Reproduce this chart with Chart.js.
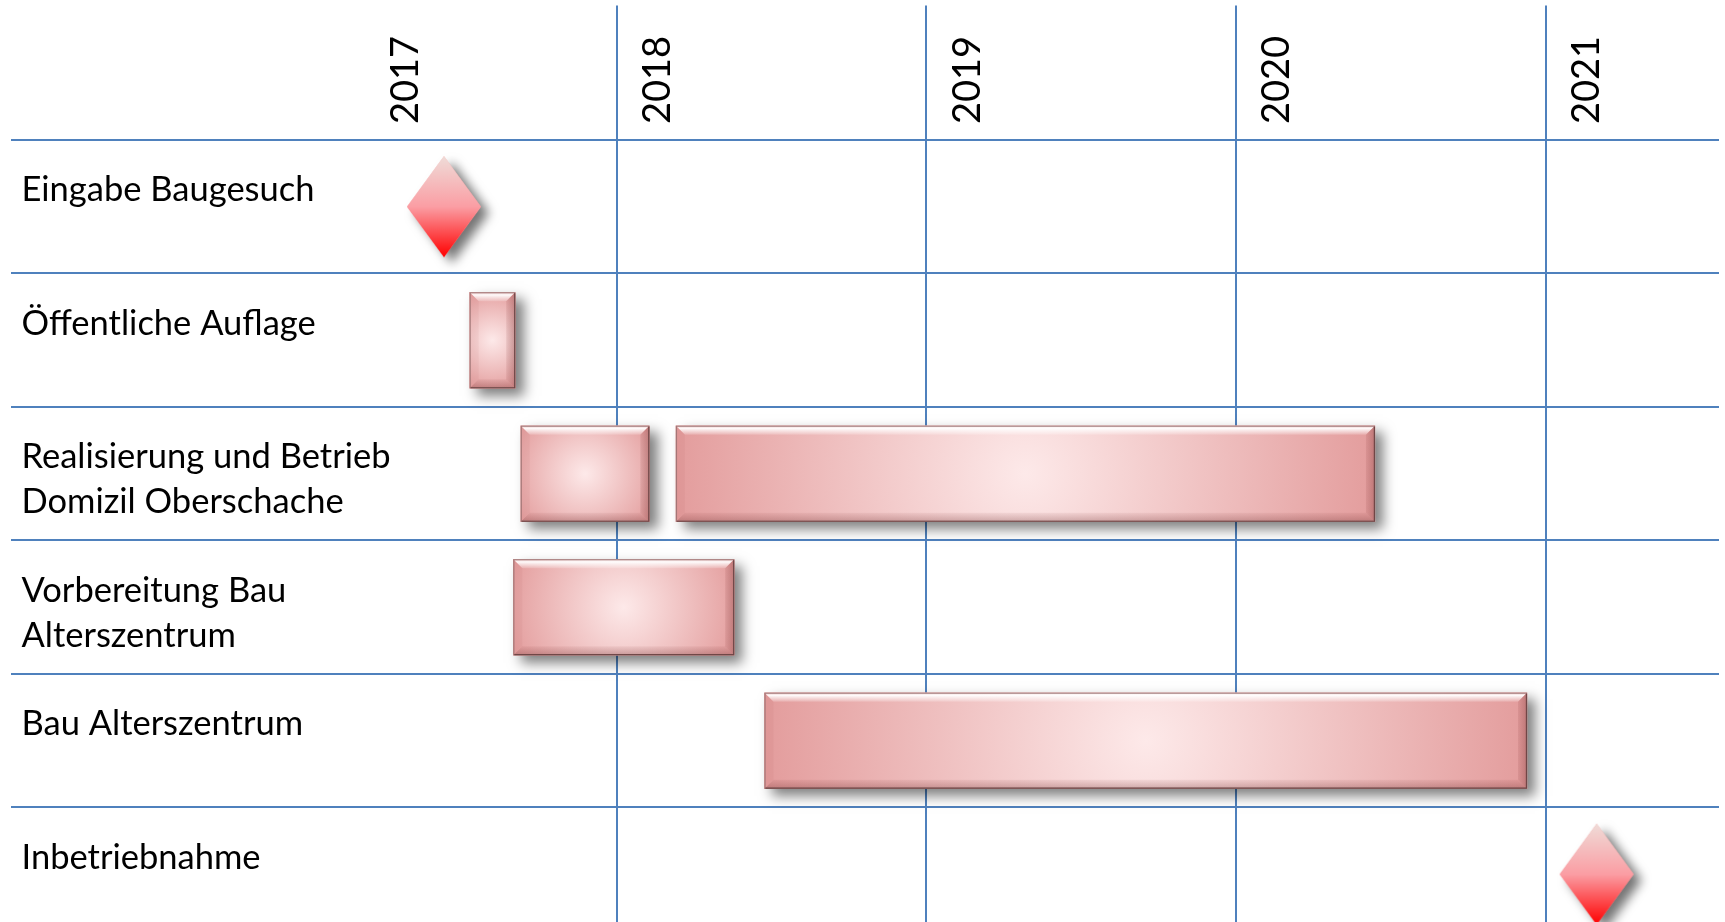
<!DOCTYPE html>
<html>
<head>
<meta charset="utf-8">
<script src="https://cdn.jsdelivr.net/npm/chart.js@4.4.1/dist/chart.umd.min.js"></script>
<style>
  html, body { margin: 0; padding: 0; background: #ffffff; }
  #wrap { width: 1725px; height: 922px; position: relative; }
</style>
</head>
<body>
<div id="wrap"><canvas id="c"></canvas></div>
<script>
// ---------------- data ----------------
const categories = [
  'Eingabe Baugesuch',
  'Öffentliche Auflage',
  'Realisierung und Betrieb\nDomizil Oberschache',
  'Vorbereitung Bau\nAlterszentrum',
  'Bau Alterszentrum',
  'Inbetriebnahme'
];
const yearTicks  = [2017, 2018, 2019, 2020, 2021];
const yearLabels = ['2017', '2018', '2019', '2020', '2021'];
const gridYears  = [2018, 2019, 2020, 2021];

// tasks (row index, start, end in fractional years)
const taskRows  = [1, 2, 2, 3, 4];
const taskStart = [2017.525, 2017.690, 2018.191, 2017.666, 2018.477];
const taskEnd   = [2017.672, 2018.105, 2020.448, 2018.379, 2020.939];

// milestones
const milestoneRows  = [0, 5];
const milestoneDates = [2017.442, 2021.164];

// ---------------- styling helpers ----------------
const FONT = 'Lato, "Open Sans", "DejaVu Sans", sans-serif';

function makeDiamond(w, h) {
  const pad = 26;
  const c = document.createElement('canvas');
  c.width = w + 2 * pad; c.height = h + 2 * pad;
  const g = c.getContext('2d');
  const cx = c.width / 2, cy = c.height / 2;
  const path = () => {
    g.beginPath();
    g.moveTo(cx, cy - h / 2);
    g.lineTo(cx + w / 2, cy);
    g.lineTo(cx, cy + h / 2);
    g.lineTo(cx - w / 2, cy);
    g.closePath();
  };
  path();
  g.save();
  g.shadowColor = 'rgba(0,0,0,0.55)';
  g.shadowBlur = 11;
  g.shadowOffsetX = 8;
  g.shadowOffsetY = 6;
  g.fillStyle = '#f8a0a0';
  g.fill();
  g.restore();
  const grad = g.createLinearGradient(0, cy - h / 2, 0, cy + h / 2);
  grad.addColorStop(0, '#efdcd8');
  grad.addColorStop(0.5, '#fb9ea4');
  grad.addColorStop(1, '#ff0000');
  path();
  g.fillStyle = grad;
  g.fill();
  return c;
}
const diamondImg = makeDiamond(74, 101);

function poly(ctx, pts, fill) {
  ctx.beginPath();
  ctx.moveTo(pts[0][0], pts[0][1]);
  for (let i = 1; i < pts.length; i++) ctx.lineTo(pts[i][0], pts[i][1]);
  ctx.closePath();
  ctx.fillStyle = fill;
  ctx.fill();
}

function drawBevelBar(ctx, l, t, r, b) {
  const w = r - l, h = b - t;
  const bw = Math.min(9, w / 4, h / 4);
  const cx = (l + r) / 2, cy = (t + b) / 2, R = Math.hypot(w, h) / 2;
  const rg = ctx.createRadialGradient(cx, cy, 0, cx, cy, R);
  rg.addColorStop(0, '#fde9e9');
  rg.addColorStop(1, '#e39c9c');
  ctx.fillStyle = rg;
  ctx.fillRect(l, t, w, h);

  const tg = ctx.createLinearGradient(0, t, 0, t + bw);
  tg.addColorStop(0, 'rgba(255,255,255,0.4)');
  tg.addColorStop(0.3, 'rgba(255,255,255,0.95)');
  tg.addColorStop(1, 'rgba(255,255,255,0.15)');
  poly(ctx, [[l, t], [r, t], [r - bw, t + bw], [l + bw, t + bw]], tg);
  poly(ctx, [[l, t], [l + bw, t + bw], [l + bw, b - bw], [l, b]], 'rgba(170,80,80,0.07)');
  const rgx = ctx.createLinearGradient(r - bw, 0, r, 0);
  rgx.addColorStop(0, 'rgba(120,40,40,0.10)');
  rgx.addColorStop(1, 'rgba(110,40,40,0.32)');
  poly(ctx, [[r, t], [r, b], [r - bw, b - bw], [r - bw, t + bw]], rgx);
  const bg = ctx.createLinearGradient(0, b - bw, 0, b);
  bg.addColorStop(0, 'rgba(120,40,40,0.06)');
  bg.addColorStop(1, 'rgba(100,40,40,0.30)');
  poly(ctx, [[l, b], [l + bw, b - bw], [r - bw, b - bw], [r, b]], bg);

  ctx.lineWidth = 1.2;
  ctx.strokeStyle = 'rgba(150,110,110,0.8)';
  ctx.strokeRect(l + 0.5, t + 0.5, w - 1, h - 1);
  ctx.strokeStyle = 'rgba(100,60,60,0.8)';
  ctx.beginPath();
  ctx.moveTo(r - 0.5, t + 1);
  ctx.lineTo(r - 0.5, b - 0.5);
  ctx.lineTo(l + 1, b - 0.5);
  ctx.stroke();
}

function zeroPadding(scale) {
  scale.paddingTop = 0; scale.paddingBottom = 0;
  scale.paddingLeft = 0; scale.paddingRight = 0;
}

// ---------------- plugins ----------------
const tableGrid = {
  id: 'tableGrid',
  beforeDatasetsDraw(chart) {
    const ctx = chart.ctx, xs = chart.scales.x, ys = chart.scales.y;
    ctx.save();
    ctx.strokeStyle = '#4f81bd';
    ctx.lineWidth = 2;
    gridYears.forEach(v => {
      const px = Math.round(xs.getPixelForValue(v));
      ctx.beginPath(); ctx.moveTo(px, 5.5); ctx.lineTo(px, chart.height); ctx.stroke();
    });
    categories.forEach((c, i) => {
      const py = Math.round(ys.getPixelForValue(i - 0.5));
      ctx.beginPath(); ctx.moveTo(11, py); ctx.lineTo(xs.right, py); ctx.stroke();
    });
    ctx.restore();
  }
};

const bevelBars = {
  id: 'bevelBars',
  beforeDatasetDraw(chart, args) {
    if (args.meta.type !== 'bar') return;
    const ctx = chart.ctx;
    ctx.save();
    ctx.shadowColor = 'rgba(0,0,0,0.5)';
    ctx.shadowBlur = 12;
    ctx.shadowOffsetX = 8;
    ctx.shadowOffsetY = 7;
  },
  afterDatasetDraw(chart, args) {
    if (args.meta.type !== 'bar') return;
    const ctx = chart.ctx;
    ctx.restore();
    ctx.save();
    args.meta.data.forEach(el => {
      const p = el.getProps(['x', 'y', 'base', 'height'], true);
      const l = Math.min(p.x, p.base), r = Math.max(p.x, p.base);
      drawBevelBar(ctx, l, p.y - p.height / 2, r, p.y + p.height / 2);
    });
    ctx.restore();
  }
};

// ---------------- chart ----------------
new Chart(document.getElementById('c'), {
  type: 'bar',
  data: {
    datasets: [
      {
        type: 'bar',
        indexAxis: 'y',
        data: taskRows.map((row, i) => ({ y: row, x: [taskStart[i], taskEnd[i]] })),
        backgroundColor: '#e6a4a4',
        borderWidth: 0,
        barThickness: 96,
        grouped: false
      },
      {
        type: 'scatter',
        data: milestoneRows.map((row, i) => ({ x: milestoneDates[i], y: row })),
        pointStyle: diamondImg,
        pointRadius: 40,
        showLine: false,
        clip: false
      }
    ]
  },
  options: {
    responsive: true,
    maintainAspectRatio: false,
    animation: false,
    events: [],
    layout: { autoPadding: false, padding: { left: 20, right: 6, top: 0, bottom: 0 } },
    plugins: { legend: { display: false }, tooltip: { enabled: false } },
    scales: {
      x: {
        type: 'linear',
        position: 'top',
        offset: false,
        min: 2017.187,
        max: 2021.559,
        grid: { display: false, drawTicks: false, offset: false },
        border: { display: false },
        afterBuildTicks(scale) {
          scale.ticks = yearTicks.map(v => ({ value: Math.max(v, scale.min) }));
        },
        afterFit(scale) { scale.height = 140; zeroPadding(scale); },
        ticks: {
          autoSkip: false,
          minRotation: 90,
          maxRotation: 90,
          padding: 16,
          labelOffset: 79,
          color: '#000000',
          font: { family: FONT, size: 38, lineHeight: 1 },
          callback: (v, i) => yearLabels[i]
        }
      },
      y: {
        type: 'linear',
        reverse: true,
        offset: false,
        min: -0.5,
        max: 5.358,
        grid: { display: false, drawTicks: false },
        border: { display: false },
        afterBuildTicks(scale) {
          scale.ticks = categories.map((c, i) => ({ value: i }));
        },
        afterFit(scale) { scale.width = 345; zeroPadding(scale); },
        ticks: {
          autoSkip: false,
          mirror: true,
          crossAlign: 'near',
          padding: -343.5,
          labelOffset: 6,
          color: '#000000',
          font: { family: FONT, size: 34.5, lineHeight: '45px' },
          callback: (v, i) => {
            const lines = categories[i].split('\n');
            while (lines.length < 2) lines.push('');
            return lines;
          }
        }
      }
    }
  },
  plugins: [tableGrid, bevelBars]
});
</script>
</body>
</html>
